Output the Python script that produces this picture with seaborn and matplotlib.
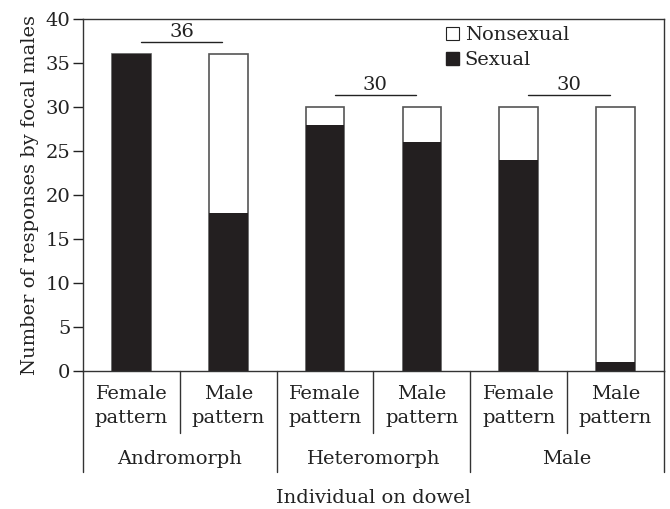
import matplotlib
import matplotlib.pyplot as plt
import matplotlib.transforms as mtransforms
import pandas as pd
import seaborn as sns
from matplotlib.patches import Patch

matplotlib.use("Agg")

# data
GROUPS = ["Andromorph", "Heteromorph", "Male"]
PATTERNS = ["Female\npattern", "Male\npattern"]
SEXUAL = [36, 18, 28, 26, 24, 1]
TOTAL = [36, 36, 30, 30, 30, 30]
GROUP_N = [36, 30, 30]

DARK = "#231f20"
EDGE = "#555555"
TXT = "#222222"
FS = 14

sns.set_theme(style="white")
plt.rcParams["font.family"] = ["DejaVu Serif"]
plt.rcParams["font.size"] = FS

bars = pd.DataFrame(
    {
        "slot": [f"{g}|{p}" for g in GROUPS for p in PATTERNS],
        "sexual": SEXUAL,
        "total": TOTAL,
    }
)

fig = plt.figure(figsize=(6.7, 5.09), dpi=100)
ax = fig.add_axes([0.1239, 0.2711, 0.8671, 0.6916])

sns.barplot(data=bars, x="slot", y="total", color="white", edgecolor=EDGE,
            linewidth=1.2, width=0.4, ax=ax)
sns.barplot(data=bars, x="slot", y="sexual", color=DARK, edgecolor=DARK,
            linewidth=0, width=0.4, saturation=1, ax=ax)

ax.set_ylim(0, 40)
ax.set_xlim(-0.5, len(bars) - 0.5)
ax.set_yticks(range(0, 41, 5))
ax.set_xticks(range(len(bars)))
ax.set_xticklabels([p for _ in GROUPS for p in PATTERNS], linespacing=1.45)
ax.tick_params(axis="x", length=0, pad=10, labelsize=FS, colors=TXT)
ax.tick_params(axis="y", direction="out", length=7, width=1, left=True,
               pad=2, labelsize=FS, colors=TXT)
ax.set_ylabel("Number of responses by focal males", fontsize=FS, labelpad=5,
              color=TXT)
ax.set_xlabel("")
for sp in ax.spines.values():
    sp.set_color("#333333")
    sp.set_linewidth(1.0)

# sample size brackets
for i, n in enumerate(GROUP_N):
    y_line = n + 1.4
    ax.plot([2 * i + 0.1, 2 * i + 0.94], [y_line, y_line], color=TXT, lw=1)
    ax.text(2 * i + 0.52, y_line + 0.1, str(n), ha="center", va="bottom",
            fontsize=FS, color=TXT)

# hierarchical x axis
trans = mtransforms.blended_transform_factory(ax.transData, ax.transAxes)
for i in range(len(GROUPS)):
    ax.plot([2 * i + 0.5] * 2, [0, -0.176], transform=trans, color="#333333",
            lw=1, clip_on=False)
    ax.text(2 * i + 0.5, -0.25, GROUPS[i], transform=trans, ha="center",
            va="center", fontsize=FS, color=TXT)
for x in range(0, 2 * len(GROUPS) + 1, 2):
    ax.plot([x - 0.5] * 2, [0, -0.287], transform=trans, color="#333333",
            lw=1, clip_on=False)
ax.text(0.5, -0.36, "Individual on dowel", transform=ax.transAxes,
        ha="center", va="center", fontsize=FS, color=TXT)

handles = [
    Patch(facecolor="white", edgecolor=TXT, linewidth=0.8, label="Nonsexual"),
    Patch(facecolor=DARK, edgecolor=DARK, label="Sexual"),
]
ax.legend(handles=handles, loc="upper left", bbox_to_anchor=(0.622, 0.985),
          frameon=False, handlelength=0.65, handleheight=0.65,
          handletextpad=0.3, labelspacing=0.35, borderpad=0.1,
          borderaxespad=0, fontsize=FS, labelcolor=TXT)

fig.savefig("out.png", dpi=100)
